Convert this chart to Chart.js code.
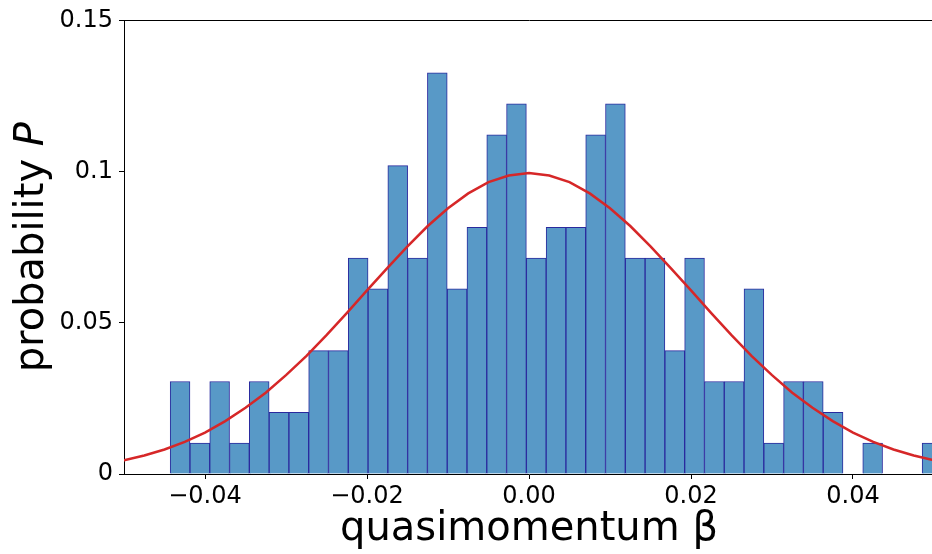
<!DOCTYPE html>
<html>
<head>
<meta charset="utf-8">
<title>quasimomentum histogram</title>
<script src="https://cdn.jsdelivr.net/npm/chart.js"></script>
<style>
  html, body { margin: 0; padding: 0; background: #fff; overflow: hidden; }
  #wrap { position: relative; width: 940px; height: 554px; }
</style>
</head>
<body>
<div id="wrap"><canvas id="histChart"></canvas></div>
<script>
// histogram bins: left edge of the first bin and the common bin width
const binLeft = -0.0443;
const binWidth = 0.002443;
// probability per bin, left to right
const binProb = [
  0.0306, 0.0102, 0.0306, 0.0102, 0.0306, 0.0204, 0.0204, 0.0408, 0.0408, 0.0714,
  0.0612, 0.1020, 0.0714, 0.1327, 0.0612, 0.0816, 0.1122, 0.1224, 0.0714, 0.0816,
  0.0816, 0.1122, 0.1224, 0.0714, 0.0714, 0.0408, 0.0714, 0.0306, 0.0306, 0.0612,
  0.0102, 0.0306, 0.0306, 0.0204, 0, 0.0102, 0, 0, 0.0102
];

// gaussian fit, sampled
const fitX = [
  -0.0525, -0.05, -0.0475, -0.045, -0.0425, -0.04, -0.0375, -0.035, -0.0325, -0.03, -0.0275,
  -0.025, -0.0225, -0.02, -0.0175, -0.015, -0.0125, -0.01, -0.0075, -0.005, -0.0025,
  0, 0.0025, 0.005, 0.0075, 0.01, 0.0125, 0.015, 0.0175, 0.02, 0.0225,
  0.025, 0.0275, 0.03, 0.0325, 0.035, 0.0375, 0.04, 0.0425, 0.045, 0.0475, 0.05, 0.0525
];
const fitY = [
  0.0033, 0.0045, 0.0061, 0.0081, 0.0106, 0.0137, 0.0175, 0.0219, 0.0269, 0.0327, 0.0390,
  0.0459, 0.0532, 0.0607, 0.0681, 0.0753, 0.0820, 0.0879, 0.0928, 0.0965, 0.0987,
  0.0995, 0.0987, 0.0965, 0.0928, 0.0879, 0.0820, 0.0753, 0.0681, 0.0607, 0.0532,
  0.0459, 0.0390, 0.0327, 0.0269, 0.0219, 0.0175, 0.0137, 0.0106, 0.0081, 0.0061, 0.0045, 0.0033
];

const xTicks = [-0.04, -0.02, 0, 0.02, 0.04];
const xTickLabels = ['\u22120.04', '\u22120.02', '0.00', '0.02', '0.04'];
const yTicks = [0, 0.05, 0.1, 0.15];
const yTickLabels = ['0', '0.05', '0.1', '0.15'];
const xTitle = 'quasimomentum \u03b2';
const yTitle = ['probability ', 'P'];

const FONT = 'DejaVu Sans';

const barPoints = binProb
  .map((p, i) => ({ x: binLeft + (i + 0.5) * binWidth, y: p }))
  .filter(d => d.y > 0);
const fitPoints = fitX.map((x, i) => ({ x: x, y: fitY[i] }));

// y title with an italic P, drawn rotated left of the axis
const yTitlePlugin = {
  id: 'yTitle',
  afterDraw(chart) {
    const ctx = chart.ctx;
    const area = chart.chartArea;
    const plain = '40px "' + FONT + '"';
    const ital = 'italic 40px "' + FONT + '"';
    ctx.save();
    ctx.font = plain;
    const w1 = ctx.measureText(yTitle[0]).width;
    ctx.font = ital;
    const w2 = ctx.measureText(yTitle[1]).width;
    ctx.translate(43, (area.top + area.bottom) / 2);
    ctx.rotate(-Math.PI / 2);
    ctx.fillStyle = '#000';
    ctx.textBaseline = 'alphabetic';
    ctx.textAlign = 'left';
    ctx.font = plain;
    ctx.fillText(yTitle[0], -(w1 + w2) / 2, 0);
    ctx.font = ital;
    ctx.fillText(yTitle[1], -(w1 + w2) / 2 + w1, 0);
    ctx.restore();
  }
};

const tickGrid = {
  display: true,
  offset: false,
  drawOnChartArea: false,
  drawTicks: true,
  tickLength: 5,
  tickWidth: 1,
  tickColor: '#000'
};

new Chart(document.getElementById('histChart'), {
  data: {
    datasets: [
      {
        type: 'line',
        data: fitPoints,
        borderColor: '#d62728',
        borderWidth: 2.5,
        pointRadius: 0,
        tension: 0,
        clip: 0,
        order: 0
      },
      {
        type: 'bar',
        data: barPoints,
        backgroundColor: '#5899c7',
        borderColor: '#2a2a9e',
        borderWidth: 1,
        barPercentage: 1,
        categoryPercentage: 1,
        grouped: false,
        order: 1
      }
    ]
  },
  options: {
    responsive: true,
    maintainAspectRatio: false,
    animation: false,
    layout: { padding: { top: 17, right: 6, left: 0, bottom: 0 } },
    plugins: { legend: { display: false }, tooltip: { enabled: false } },
    scales: {
      x: {
        type: 'linear',
        offset: false,
        min: -0.05,
        max: 0.05,
        afterBuildTicks: s => { s.ticks = xTicks.map(v => ({ value: v })); },
        afterFit: s => { s.height = 80; },
        grid: tickGrid,
        border: { display: true, color: '#000', width: 1 },
        ticks: {
          autoSkip: false,
          maxRotation: 0,
          padding: 3,
          color: '#000',
          font: { family: FONT, size: 24 },
          callback: v => xTickLabels[xTicks.indexOf(v)]
        },
        title: {
          display: true,
          text: xTitle,
          color: '#000',
          font: { family: FONT, size: 40 },
          padding: { top: 0, bottom: 0 }
        }
      },
      xTop: {
        type: 'linear',
        position: 'top',
        offset: false,
        min: -0.05,
        max: 0.05,
        afterFit: s => { s.height = 0; },
        grid: { display: false, offset: false },
        ticks: { display: false },
        border: { display: true, color: '#000', width: 1 }
      },
      y: {
        type: 'linear',
        min: 0,
        max: 0.15,
        afterBuildTicks: s => { s.ticks = yTicks.map(v => ({ value: v })); },
        afterFit: s => { s.width = 124; },
        grid: tickGrid,
        border: { display: true, color: '#000', width: 1 },
        ticks: {
          padding: 6,
          color: '#000',
          font: { family: FONT, size: 24 },
          callback: v => yTickLabels[yTicks.indexOf(v)]
        }
      }
    }
  },
  plugins: [yTitlePlugin]
});
</script>
</body>
</html>
